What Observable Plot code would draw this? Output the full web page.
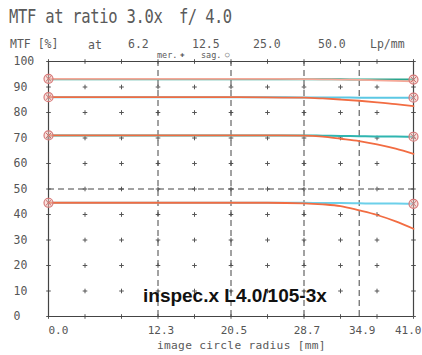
<!DOCTYPE html>
<html><head><meta charset="utf-8">
<script src="https://cdn.jsdelivr.net/npm/d3@7"></script>
<script src="https://cdn.jsdelivr.net/npm/@observablehq/plot@0.6"></script>
<style>
html,body{margin:0;padding:0;background:#fff;}
#wrap{position:relative;width:422px;height:355px;overflow:hidden;}
.t{position:absolute;font-family:"DejaVu Sans Mono",monospace;color:#5a5a5a;white-space:pre;line-height:1;}
</style></head>
<body><div id="wrap"></div>
<script>
const radius = [0, 4.1, 8.2, 12.3, 16.4, 20.5, 24.6, 28.7, 30.8, 32.8, 34.9, 36.9, 39, 41];
const freqs = ["6.2", "12.5", "25.0", "50.0"];
const mer62 = [93.2,93.2,93.2,93.2,93.2,93.2,93.2,93.1,93.0,92.9,92.8,92.6,92.4,92.2];
const sag62 = [93.0,93.0,93.0,93.0,93.0,93.0,93.0,93.0,93.0,93.0,92.9,92.9,92.9,92.9];
const mer125 = [86.0,86.0,86.0,86.0,86.0,86.0,85.9,85.8,85.5,85.1,84.6,84.0,83.3,82.5];
const sag125 = [86.0,86.0,86.0,86.0,86.0,86.0,86.0,85.9,85.9,85.9,85.8,85.8,85.8,85.8];
const mer25 = [71.0,71.0,71.0,71.0,71.0,71.0,71.0,70.9,70.5,69.7,68.8,67.5,65.8,63.8];
const sag25 = [71.0,71.0,71.0,71.0,71.0,71.0,71.0,71.0,70.9,70.8,70.7,70.6,70.6,70.5];
const mer50 = [44.6,44.6,44.6,44.6,44.6,44.6,44.6,44.4,44.0,43.3,41.6,39.8,37.3,34.4];
const sag50 = [44.6,44.6,44.6,44.6,44.6,44.6,44.6,44.6,44.5,44.5,44.4,44.3,44.3,44.2];
const merColors = ["#f6a898", "#f26c42", "#f26c42", "#f26c42"];
const sagColors = ["#2aa58e", "#5cc8e4", "#2fb5b0", "#6cd0ea"];
const yTicks = [0,10,20,30,40,50,60,70,80,90,100];
const xTicks = [0, 12.3, 20.5, 28.7, 34.9, 41.0];
const gridX = [0, 4.1, 8.2, 12.3, 16.4, 20.5, 24.6, 28.7, 32.8, 36.9, 41];
const dashedX = [12.3, 20.5, 28.7, 34.9];

const merAll = [mer62, mer125, mer25, mer50];
const sagAll = [sag62, sag125, sag25, sag50];
const rows = [];
freqs.forEach((f, i) => {
  radius.forEach((r, j) => {
    rows.push({f, i, kind: "mer", r, v: merAll[i][j]});
    rows.push({f, i, kind: "sag", r, v: sagAll[i][j]});
  });
});
const grid = [];
gridX.forEach(x => yTicks.forEach(y => grid.push({x, y})));
const ends = [];
freqs.forEach((f, i) => {
  ends.push({r: 0, v: merAll[i][0], i});
  ends.push({r: 41, v: sagAll[i][sagAll[i].length - 1], i});
});

const mono = "DejaVu Sans Mono";
const plot = Plot.plot({
  width: 422, height: 355,
  marginLeft: 48, marginRight: 9, marginTop: 61, marginBottom: 39,
  x: {domain: [0, 41], axis: null},
  y: {domain: [0, 100], axis: null},
  style: {background: "transparent"},
  marks: [
    Plot.dot(grid, {x: "x", y: "y", symbol: "plus", r: 1.6, stroke: "#555", strokeWidth: 1}),
    Plot.ruleX(dashedX, {y1: 0, y2: 100, stroke: "#444", strokeDasharray: "6,4", strokeWidth: 1}),
    Plot.ruleY([50], {x1: 0, x2: 41, stroke: "#444", strokeDasharray: "6,4", strokeWidth: 1}),
    Plot.ruleX([0, 41], {y1: 0, y2: 100, stroke: "#444", strokeWidth: 1.2}),
    Plot.ruleY([0, 100], {x1: 0, x2: 41, stroke: "#444", strokeWidth: 1.2}),
    Plot.line(rows.filter(d => d.kind === "sag"), {x: "r", y: "v", z: "f", stroke: d => sagColors[d.i], strokeWidth: 2, curve: "monotone-x"}),
    Plot.line(rows.filter(d => d.kind === "mer"), {x: "r", y: "v", z: "f", stroke: d => merColors[d.i], strokeWidth: 1.8, curve: "monotone-x"}),
    Plot.dot(ends, {x: "r", y: "v", r: 4.5, stroke: "#d87a7a", fill: "#f4c8c0", fillOpacity: 0.5, strokeWidth: 1.2}),
    Plot.dot(ends, {x: "r", y: "v", r: 2.6, symbol: "times", stroke: "#c86a6a", strokeWidth: 1}),
    Plot.text(yTicks, {x: 0, y: d => d, text: d => String(d), textAnchor: "start", dx: -35, fontFamily: mono, fontSize: 11.5, fill: "#555"}),
    Plot.text([xTicks[0]], {x: d => d, y: 0, text: d => d.toFixed(1), textAnchor: "start", dy: 14, fontFamily: mono, fontSize: 11, fill: "#555"}),
    Plot.text(xTicks.slice(1, -1), {x: d => d, y: 0, text: d => d.toFixed(1), textAnchor: "middle", dx: 3, dy: 14, fontFamily: mono, fontSize: 11, fill: "#555"}),
    Plot.text(xTicks.slice(-1), {x: d => d, y: 0, text: d => d.toFixed(1), textAnchor: "end", dx: 8, dy: 14, fontFamily: mono, fontSize: 11, fill: "#555"})
  ]
});
const wrap = document.getElementById("wrap");
wrap.appendChild(plot);
function addText(txt, left, top, size, extra) {
  const d = document.createElement("div");
  d.className = "t";
  d.textContent = txt;
  d.style.left = left + "px";
  d.style.top = top + "px";
  d.style.fontSize = size + "px";
  if (extra) Object.assign(d.style, extra);
  wrap.appendChild(d);
}
addText("MTF at ratio 3.0x", 9, 8, 15.5, {transform: "scaleY(1.25)", transformOrigin: "left top", letterSpacing: "-0.3px"});
addText("f/ 4.0", 179, 8, 15.5, {transform: "scaleY(1.25)", transformOrigin: "left top", letterSpacing: "-0.6px"});
addText("MTF [%]", 10, 39, 11.5);
addText("at", 88, 40, 11.5);
freqs.forEach((f, i) => addText(f, [128, 192, 253, 318][i], 39, 11.5));
addText("Lp/mm", 370, 39, 11.5);
addText("mer.", 157, 51, 8.5);
addText("\u271A", 180, 51, 7.5);
addText("sag.", 201, 51, 8.5);
addText("\u25CB", 225, 51, 7.5);
addText("image circle radius [mm]", 157, 340, 11.2, {letterSpacing: "0.3px"});
addText("inspec.x L4.0/105-3x", 143, 286, 19, {fontFamily: "Liberation Sans, Arial, sans-serif", fontWeight: "bold", color: "#111"});
</script>
</body></html>
